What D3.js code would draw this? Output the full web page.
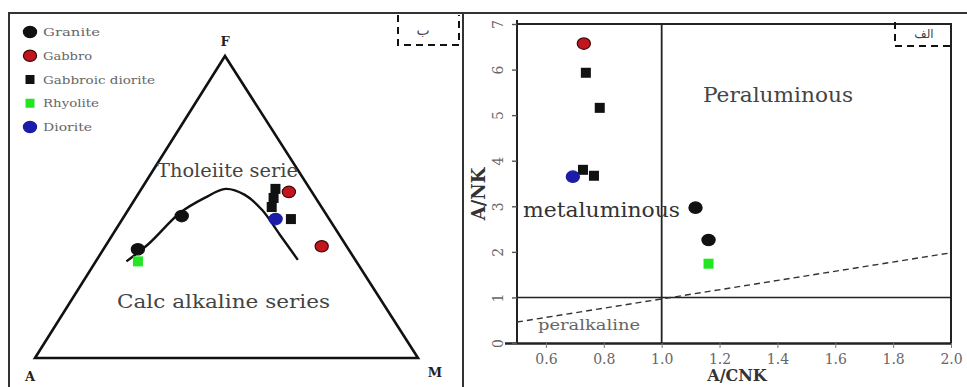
<!DOCTYPE html>
<html>
<head>
<meta charset="utf-8">
<script src="https://cdn.jsdelivr.net/npm/d3@7"></script>
<style>
  html, body { margin: 0; padding: 0; background: #fff; }
  svg { display: block; }
</style>
</head>
<body>
<div id="chart"></div>
<script>
// legend / rock types
const rockTypes = ['Granite', 'Gabbro', 'Gabbroic diorite', 'Rhyolite', 'Diorite'];
const rockColors = ['#111111', '#c2161f', '#111111', '#22e622', '#1c1ca8'];
const rockShapes = ['circle', 'circle', 'square', 'square', 'circle'];

// AFM ternary (A, F, M in %)
const graniteAFM = [[55, 36, 9], [38, 47, 15]];
const gabbroAFM = [[6, 55, 39], [6.5, 37, 56.5]];
const gabbroDioriteAFM = [[9, 56, 35], [11, 53, 36], [13, 50, 37], [10, 46, 44]];
const rhyoliteAFM = [[57, 32, 11]];
const dioriteAFM = [[14, 46, 40]];
// tholeiite / calc-alkaline divide
const divideAFM = [[60, 32, 8], [51, 38, 11], [38, 48, 14], [29, 53, 18], [22, 56, 22],
  [18, 54, 28], [16, 49, 35], [15.5, 41, 43.5], [15, 32.5, 52.5]];

// A/CNK vs A/NK
const graniteACNK = [1.117, 1.162], graniteANK = [2.97, 2.26];
const gabbroACNK = [0.731], gabbroANK = [6.57];
const gabbroDioriteACNK = [0.738, 0.786, 0.728, 0.766], gabbroDioriteANK = [5.93, 5.16, 3.80, 3.67];
const rhyoliteACNK = [1.162], rhyoliteANK = [1.74];
const dioriteACNK = [0.693], dioriteANK = [3.65];
const alkalineLineACNK = [0.5, 2.0], alkalineLineANK = [0.46, 1.98];
const xTicks = [0.6, 0.8, 1.0, 1.2, 1.4, 1.6, 1.8, 2.0];
const yTicks = [0, 1, 2, 3, 4, 5, 6, 7];

const W = 967, H = 387;
const serif = '"DejaVu Serif", "Liberation Serif", serif';

const svg = d3.select('#chart').append('svg')
  .attr('width', W).attr('height', H)
  .attr('font-family', serif);

// outer frame
svg.append('line').attr('x1', 8).attr('x2', W).attr('y1', 13).attr('y2', 13)
  .attr('stroke', '#333').attr('stroke-width', 2);
svg.append('line').attr('x1', 9).attr('x2', 9).attr('y1', 13).attr('y2', H)
  .attr('stroke', '#333').attr('stroke-width', 2);
svg.append('line').attr('x1', 463).attr('x2', 463).attr('y1', 13).attr('y2', H)
  .attr('stroke', '#333').attr('stroke-width', 2);

function drawMarker(g, shape, color, x, y, s) {
  if (shape === 'circle') {
    g.append('ellipse').attr('cx', x).attr('cy', y).attr('rx', s * 0.6).attr('ry', s * 0.52)
      .attr('fill', color).attr('stroke', color === '#c2161f' ? '#3a0a0a' : color).attr('stroke-width', 1.2);
  } else {
    g.append('rect').attr('x', x - s / 2).attr('y', y - s / 2).attr('width', s).attr('height', s)
      .attr('fill', color);
  }
}

function label(g, txt, x, y, size, len, fill) {
  return g.append('text').attr('x', x).attr('y', y).attr('font-size', size)
    .attr('textLength', len).attr('lengthAdjust', 'spacingAndGlyphs')
    .attr('fill', fill).text(txt);
}

// ---------------- left panel: AFM ----------------
const left = svg.append('g');
const corner = { A: [35, 358], F: [225, 56], M: [418, 358] };
const frac = d3.scaleLinear().domain([0, 100]).range([0, 1]);
function tern(d) {
  const s = d[0] + d[1] + d[2];
  const a = frac(d[0] * 100 / s), f = frac(d[1] * 100 / s), m = frac(d[2] * 100 / s);
  return [a * corner.A[0] + f * corner.F[0] + m * corner.M[0],
          a * corner.A[1] + f * corner.F[1] + m * corner.M[1]];
}

left.append('path')
  .attr('d', d3.line()([tern([100, 0, 0]), tern([0, 100, 0]), tern([0, 0, 100])]) + 'Z')
  .attr('fill', 'none').attr('stroke', '#111').attr('stroke-width', 2.6)
  .attr('stroke-linejoin', 'miter');

left.append('path')
  .attr('d', d3.line().curve(d3.curveCatmullRom)(divideAFM.map(tern)))
  .attr('fill', 'none').attr('stroke', '#111').attr('stroke-width', 2.4);

left.append('text').attr('x', 225).attr('y', 46).attr('text-anchor', 'middle')
  .attr('font-size', 13).attr('font-weight', 'bold').attr('fill', '#222').text('F');
left.append('text').attr('x', 30).attr('y', 381).attr('text-anchor', 'middle')
  .attr('font-size', 13).attr('font-weight', 'bold').attr('fill', '#222').text('A');
left.append('text').attr('x', 435).attr('y', 377).attr('text-anchor', 'middle')
  .attr('font-size', 13).attr('font-weight', 'bold').attr('fill', '#222').text('M');

label(left, 'Tholeiite serie', 157, 177, 19, 141, '#444');
label(left, 'Calc alkaline series', 117, 308, 19, 213, '#444');

const afmSets = [graniteAFM, gabbroAFM, gabbroDioriteAFM, rhyoliteAFM, dioriteAFM];
const drawOrder = [3, 0, 2, 1, 4];
drawOrder.forEach(i => {
  afmSets[i].forEach(d => {
    const p = tern(d);
    drawMarker(left, rockShapes[i], rockColors[i], p[0], p[1], rockShapes[i] === 'circle' ? 11 : 10);
  });
});

// legend
const legendY = d3.scalePoint().domain(rockTypes).range([32, 127]);
const legendLen = [57, 49, 112, 56, 49];
rockTypes.forEach((name, i) => {
  const y = legendY(name);
  drawMarker(left, rockShapes[i], rockColors[i], 30, y, rockShapes[i] === 'circle' ? 11 : 9);
  label(left, name, 43, y + 4, 11, legendLen[i], '#666');
});

// dashed tag box
left.append('path').attr('d', 'M398,15 V45 H459 V15')
  .attr('fill', 'none').attr('stroke', '#111').attr('stroke-width', 2).attr('stroke-dasharray', '7,5');
left.append('text').attr('x', 423).attr('y', 35).attr('text-anchor', 'middle')
  .attr('font-size', 14).attr('fill', '#444').attr('font-family', '"DejaVu Sans", sans-serif').text('ب');

// ---------------- right panel: A/CNK vs A/NK ----------------
const plot = { left: 517, right: 951, top: 24, bottom: 343 };
const x = d3.scaleLinear().domain([0.5, 2.0]).range([plot.left, plot.right]);
const y = d3.scaleLinear().domain([0, 7]).range([plot.bottom, plot.top]);
const right = svg.append('g');

// box
right.append('path')
  .attr('d', `M${plot.left},${plot.top - 4} V${plot.bottom} M${plot.left},${y(7)} H${plot.right} V${plot.bottom}`)
  .attr('fill', 'none').attr('stroke', '#222').attr('stroke-width', 2);

const xAxis = right.append('g').attr('transform', `translate(0,${plot.bottom})`)
  .call(d3.axisBottom(x).tickValues(xTicks).tickFormat(d3.format('.1f')).tickSize(5).tickPadding(6).tickSizeOuter(0));
xAxis.select('.domain').attr('stroke', '#222').attr('stroke-width', 2.4)
  .attr('d', `M${plot.left - 12},0.5 H${plot.right}`);
xAxis.selectAll('.tick line').attr('stroke', '#777');
xAxis.selectAll('text').attr('font-family', serif).attr('font-size', 14).attr('fill', '#666');

const yAxis = right.append('g').attr('transform', `translate(${plot.left},0)`)
  .call(d3.axisLeft(y).tickValues(yTicks).tickFormat(d3.format('d')).tickSize(5).tickSizeOuter(0));
yAxis.select('.domain').remove();
yAxis.selectAll('.tick line').attr('stroke', '#555').attr('stroke-width', 1.4);
yAxis.selectAll('text')
  .attr('transform', 'rotate(-90)').attr('x', 0).attr('y', -14).attr('dy', 0)
  .attr('text-anchor', 'middle').attr('font-family', serif).attr('font-size', 14).attr('fill', '#666');

// dividing lines
right.append('line').attr('x1', x(1)).attr('x2', x(1)).attr('y1', y(7)).attr('y2', plot.bottom)
  .attr('stroke', '#222').attr('stroke-width', 1.8);
right.append('line').attr('x1', plot.left).attr('x2', plot.right).attr('y1', y(1)).attr('y2', y(1))
  .attr('stroke', '#222').attr('stroke-width', 1.5);
right.append('path')
  .attr('d', d3.line()(alkalineLineACNK.map((v, i) => [x(v), y(alkalineLineANK[i])])))
  .attr('fill', 'none').attr('stroke', '#333').attr('stroke-width', 1.4).attr('stroke-dasharray', '6,4');

// region labels
label(right, 'Peraluminous', 703, 102, 20, 150, '#444');
label(right, 'metaluminous', 523, 217, 21, 157, '#333');
label(right, 'peralkaline', 538, 330, 15, 102, '#666');

// axis titles
right.append('text').attr('transform', 'translate(485,194) rotate(-90)').attr('text-anchor', 'middle')
  .attr('font-size', 18).attr('font-weight', 'bold').attr('fill', '#333').text('A/NK');
right.append('text').attr('x', 737).attr('y', 381).attr('text-anchor', 'middle')
  .attr('font-size', 16).attr('font-weight', 'bold').attr('fill', '#333').text('A/CNK');

// samples
const acnkSets = [graniteACNK, gabbroACNK, gabbroDioriteACNK, rhyoliteACNK, dioriteACNK];
const ankSets = [graniteANK, gabbroANK, gabbroDioriteANK, rhyoliteANK, dioriteANK];
drawOrder.forEach(i => {
  acnkSets[i].forEach((v, j) => {
    drawMarker(right, rockShapes[i], rockColors[i], x(v), y(ankSets[i][j]), rockShapes[i] === 'circle' ? 11 : 10);
  });
});

// dashed tag box
right.append('path').attr('d', 'M895,22 V46 H951')
  .attr('fill', 'none').attr('stroke', '#111').attr('stroke-width', 2).attr('stroke-dasharray', '7,5');
right.append('text').attr('x', 924).attr('y', 38).attr('text-anchor', 'middle')
  .attr('font-size', 12).attr('fill', '#444').attr('font-family', '"DejaVu Sans", sans-serif').text('الف');
</script>
</body>
</html>
